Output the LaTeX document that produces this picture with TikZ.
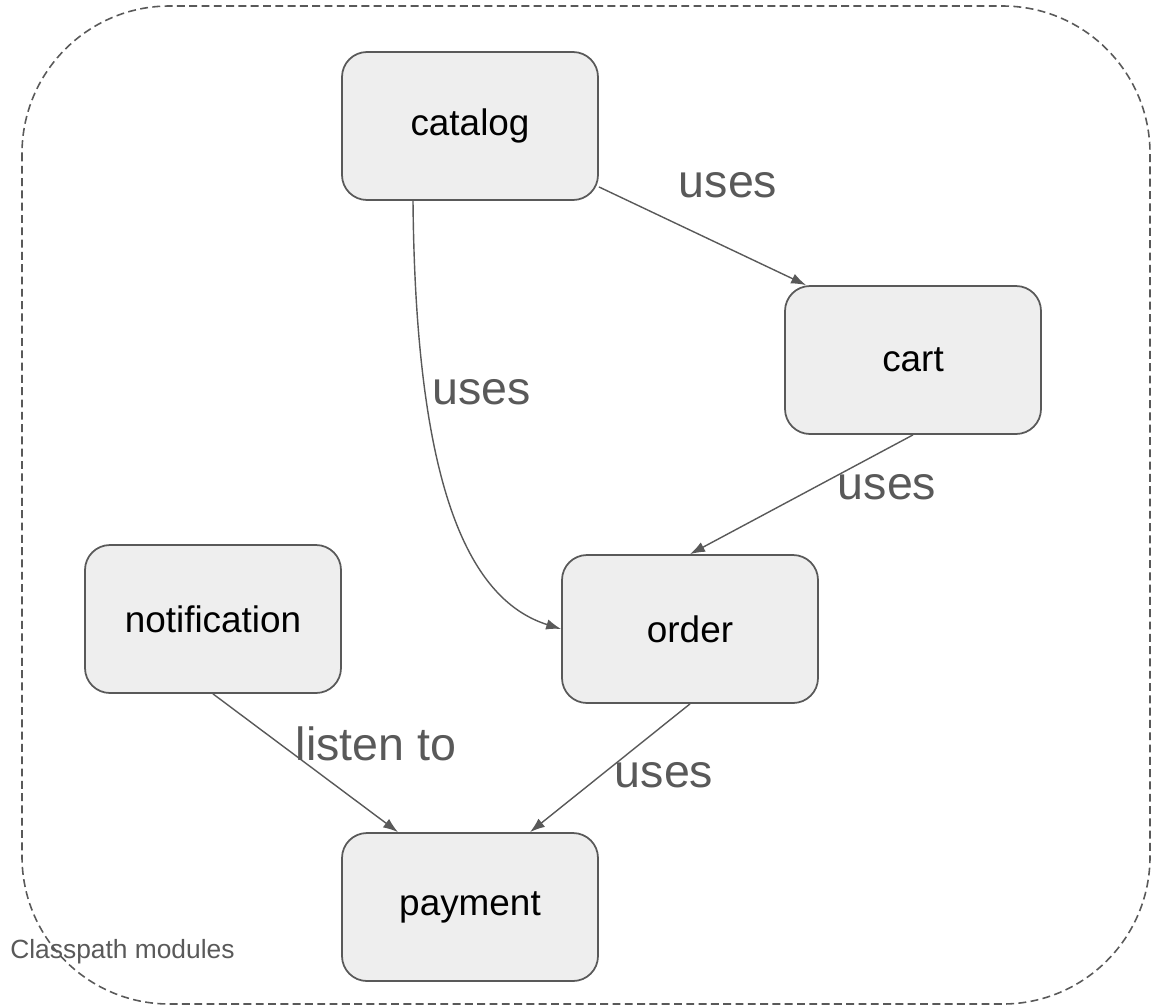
\documentclass[tikz,border=0pt]{standalone}
\usepackage{xcolor}
\usepackage{fontspec}
\setmainfont{Liberation Sans}
\usetikzlibrary{arrows.meta}

\definecolor{linegray}{HTML}{595959}
\definecolor{boxgray}{HTML}{EEEEEE}

\begin{document}
\begin{tikzpicture}[node distance=4.4cm,
  module/.style={rectangle, rounded corners=0.5cm, minimum width=5.12cm, minimum height=2.96cm, text centered, draw=linegray, line width=1pt, fill=boxgray, font=\fontsize{21}{25}\selectfont},
  uses/.style={draw=linegray, line width=0.8pt, -{Latex[length=8.5pt,width=6pt]}},
  lbl/.style={text=linegray, font=\fontsize{26.5}{30}\selectfont, inner sep=0pt}]
\useasboundingbox (0,0) rectangle (23.04,-20.14);

\draw[linegray, dashed, dash pattern=on 4.5pt off 2.5pt, line width=0.9pt, rounded corners=2.95cm] (0.44,-0.12) rectangle (23.0,-20.08);

\node (catalog) [module] at (9.40,-2.52) {catalog};

\node (cart) [module, right of=catalog, xshift=4.46cm, yshift=-4.68cm] {cart};

\node (order) [module, below of=catalog, xshift=4.40cm, yshift=-5.66cm] {order};

\node (payment) [module, below of=order, xshift=-4.40cm, yshift=-1.16cm] {payment};

\node (notification) [module, left of=order, xshift=-5.14cm, yshift=0.20cm] {notification};

\node (usesA) [lbl] at (14.56,-3.70) {uses};
\node (usesB) [lbl] at (9.64,-7.84) {uses};
\node (usesC) [lbl] at (17.74,-9.74) {uses};
\node (usesD) [lbl] at (13.28,-15.50) {uses};
\node (listen) [lbl] at (7.52,-14.88) {listen to};

\node (classpath) [text=linegray, font=\fontsize{15}{18}\selectfont, inner sep=0pt, anchor=west] at (0.2,-19.04) {Classpath modules};

\draw[uses] (catalog) -- ([xshift=0.44cm]cart.north west);
\draw[uses] ([xshift=-1.14cm]catalog.south) .. controls +(0.05cm,-5.6cm) and +(-1.9cm,0.6cm) .. (order.west);
\draw[uses] (cart.south) -- (order.north);
\draw[uses] (order.south) -- ([xshift=1.2cm]payment.north);
\draw[uses] (notification.south) -- ([xshift=-1.44cm]payment.north);

\end{tikzpicture}
\end{document}
